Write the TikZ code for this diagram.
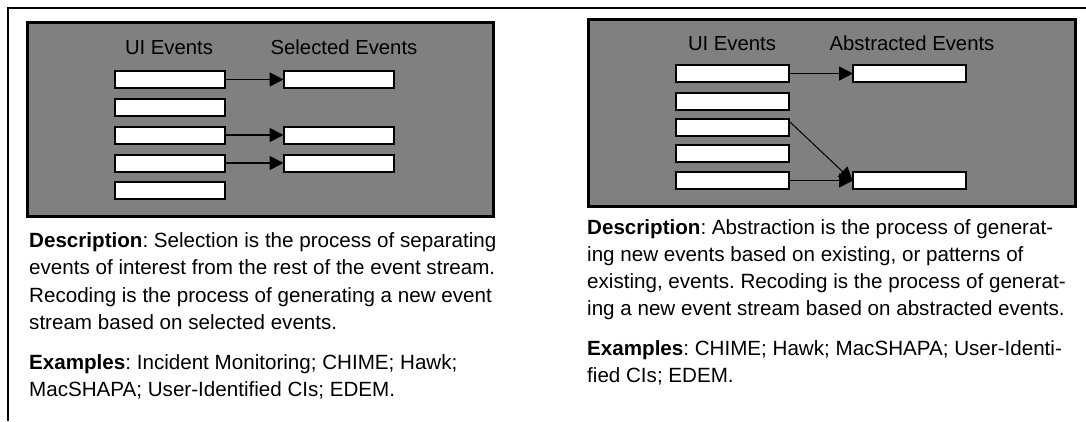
\documentclass[tikz,border=0pt]{standalone}
\usepackage{fontspec}
\setmainfont{Liberation Sans}
\usetikzlibrary{arrows.meta}
\definecolor{panelgray}{HTML}{808080}
\frenchspacing
\tikzset{
  frameline/.style={line width=2.5pt, black},
  panel/.style={draw=black, line width=3pt, fill=panelgray},
  evbox/.style={draw=black, line width=2pt, fill=white, minimum height=17pt, inner sep=0pt},
  uibox/.style={evbox, minimum width=110pt},
  uiboxr/.style={evbox, minimum width=113pt},
  flow/.style={line width=1.8pt, -{Triangle[length=14pt,width=14pt]}, shorten >=-1pt},
  thinflow/.style={line width=1pt, -{Triangle[length=14pt,width=14pt]}, shorten >=-1pt},
  collabel/.style={font=\fontsize{20.3}{24}\selectfont, inner sep=0pt, anchor=base},
  para/.style={font=\fontsize{20.6}{27.5}\selectfont, inner sep=0pt, anchor=base west}
}
\begin{document}
\begin{tikzpicture}[x=1pt,y=-1pt]
\useasboundingbox (0,0) rectangle (1086,421);

% page frame: top rule and left rule
\coordinate (ftl) at (8,8);
\coordinate (ftr) at (1086,8);
\coordinate (fbl) at (8,421);
\draw[frameline] (ftr) -- (ftl) -- (fbl);

% ---------- Selection ----------
\draw[panel] (27.5,22.5) rectangle (493.5,216.5);
\node[collabel] (selui) at (169,54) {UI Events};
\node[collabel] (selsel) at (344,54) {Selected Events};

\node[uibox] (s1) at (170,79.5) {};
\node[uibox] (s2) at (170,107.5) {};
\node[uibox] (s3) at (170,135) {};
\node[uibox] (s4) at (170,163) {};
\node[uibox] (s5) at (170,190.5) {};

\node[uibox] (t1) at (338.5,79.5) {};
\node[uibox] (t3) at (338.5,135) {};
\node[uibox] (t4) at (338.5,163) {};

\draw[flow] (s1) -- (t1);
\draw[flow] (s3) -- (t3);
\draw[flow] (s4) -- (t4);

\node[para] (sd1) at (29,247) {\textbf{Description}: Selection is the process of separating};
\node[para] (sd2) at (29,274.5) {events of interest from the rest of the event stream.};
\node[para] (sd3) at (29,302) {Recoding is the process of generating a new event};
\node[para] (sd4) at (29,329.5) {stream based on selected events.};
\node[para] (se1) at (29,369) {\textbf{Examples}: Incident Monitoring; CHIME; Hawk;};
\node[para] (se2) at (29,396.5) {MacSHAPA; User-Identified CIs; EDEM.};

% ---------- Abstraction ----------
\draw[panel] (588.5,19.5) rectangle (1075.5,206.5);
\node[collabel] (absui) at (732,50) {UI Events};
\node[collabel] (absabs) at (912,50) {Abstracted Events};

\node[uiboxr] (a1) at (732.5,73.5) {};
\node[uiboxr] (a2) at (732.5,101) {};
\node[uiboxr] (a3) at (732.5,127.5) {};
\node[uiboxr] (a4) at (732.5,153.5) {};
\node[uiboxr] (a5) at (732.5,180.5) {};

\node[uiboxr] (b1) at (909.5,73.5) {};
\node[uiboxr] (b5) at (909.5,180.5) {};

\draw[flow] (a1) -- (b1);
\draw[thinflow] (a3.north east) ++(0,4) -- (b5.west);
\draw[flow] (a5) -- (b5);

\node[para] (ad1) at (587,234) {\textbf{Description}: Abstraction is the process of generat-};
\node[para] (ad2) at (587,261.3) {ing new events based on existing, or patterns of};
\node[para] (ad3) at (587,288.6) {existing, events. Recoding is the process of generat-};
\node[para] (ad4) at (587,315.9) {ing a new event stream based on abstracted events.};
\node[para] (ae1) at (587,355) {\textbf{Examples}: CHIME; Hawk; MacSHAPA; User-Identi-};
\node[para] (ae2) at (587,382.3) {fied CIs; EDEM.};
\end{tikzpicture}
\end{document}
